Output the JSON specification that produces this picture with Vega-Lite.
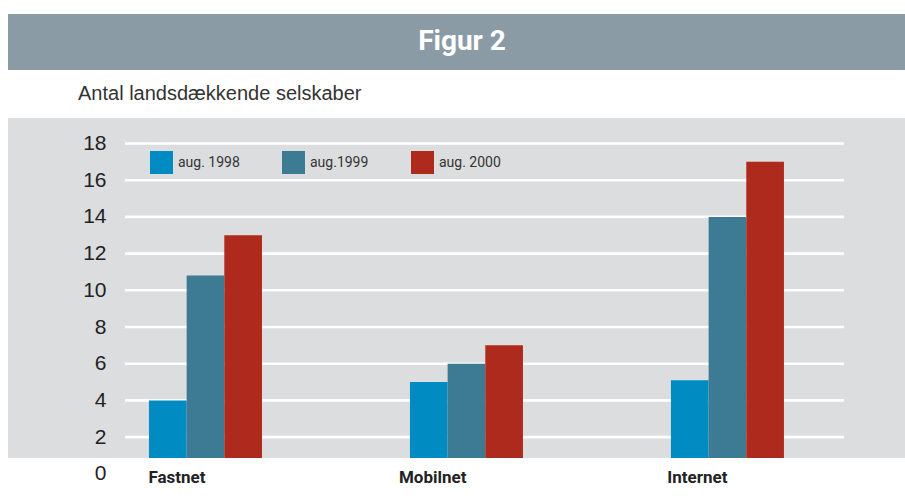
{
  "$schema": "https://vega.github.io/schema/vega-lite/v6.json",
  "background": "white",
  "padding": {"left": 8, "top": 14, "right": 0, "bottom": 0},
  "config": {"view": {"stroke": null}},
  "spacing": 14,
  "vconcat": [
    {
      "width": 897,
      "height": 56,
      "view": {"fill": "#8a9ba6", "stroke": null},
      "data": {"values": [{"label": "Figur 2"}]},
      "mark": {"type": "text", "color": "white", "font": "Roboto", "fontWeight": "bold", "fontSize": 28, "dx": 5.5, "baseline": "middle", "align": "center"},
      "encoding": {"text": {"field": "label"}}
    },
    {
      "width": 897,
      "height": 340,
      "view": {"fill": "#dcdddf", "stroke": null},
      "title": {"text": "Antal landsdækkende selskaber", "anchor": "start", "frame": "group", "dx": 70, "offset": -2, "baseline": "alphabetic", "font": "Liberation Sans", "fontSize": 20, "fontWeight": "normal", "color": "#333333"},
      "encoding": {
        "y": {
          "field": "value",
          "type": "quantitative",
          "title": null,
          "scale": {"domain": [0, 18], "range": [355.8, 25.5], "nice": false, "zero": true},
          "axis": {"values": [0, 2, 4, 6, 8, 10, 12, 14, 16, 18], "grid": false, "domain": false, "ticks": false, "tickSize": 0, "labelPadding": 0, "offset": -98, "labelFont": "Liberation Sans", "labelFontSize": 21, "labelColor": "#222222", "labelAlign": "right", "labelBaseline": "middle", "title": null}
        }
      },
      "layer": [
        {
          "data": {"values": [{"value": 2}, {"value": 4}, {"value": 6}, {"value": 8}, {"value": 10}, {"value": 12}, {"value": 14}, {"value": 16}, {"value": 18}]},
          "mark": {"type": "rule", "color": "white", "strokeWidth": 2.6, "xOffset": -24, "x2Offset": 173},
          "encoding": {
            "x": {"datum": "Fastnet", "bandPosition": 0, "scale": {"domain": ["Fastnet", "Mobilnet", "Internet"], "paddingInner": 0.567, "paddingOuter": 0.502, "align": 0.538}},
            "x2": {"datum": "Internet", "bandPosition": 0}
          }
        },
        {
          "data": {"values": [
            {"cat": "Fastnet", "year": "aug. 1998", "value": 4},
            {"cat": "Fastnet", "year": "aug.1999", "value": 10.8},
            {"cat": "Fastnet", "year": "aug. 2000", "value": 13},
            {"cat": "Mobilnet", "year": "aug. 1998", "value": 5},
            {"cat": "Mobilnet", "year": "aug.1999", "value": 6},
            {"cat": "Mobilnet", "year": "aug. 2000", "value": 7},
            {"cat": "Internet", "year": "aug. 1998", "value": 5.1},
            {"cat": "Internet", "year": "aug.1999", "value": 14},
            {"cat": "Internet", "year": "aug. 2000", "value": 17}
          ]},
          "mark": {"type": "bar", "clip": true, "stroke": null},
          "encoding": {
            "x": {
              "field": "cat", "type": "nominal", "sort": null, "title": null,
              "scale": {"domain": ["Fastnet", "Mobilnet", "Internet"], "paddingInner": 0.567, "paddingOuter": 0.502, "align": 0.538},
              "axis": {"orient": "bottom", "domain": false, "ticks": false, "tickSize": 0, "labelPadding": 19, "labelAngle": 0, "labelFont": "Roboto", "labelFontWeight": "bold", "labelFontSize": 17, "labelColor": "#222222", "grid": false, "title": null}
            },
            "xOffset": {"field": "year", "type": "nominal", "sort": ["aug. 1998", "aug.1999", "aug. 2000"], "scale": {"paddingInner": 0, "paddingOuter": 0}},
            "color": {
              "field": "year", "type": "nominal",
              "scale": {"domain": ["aug. 1998", "aug.1999", "aug. 2000"], "range": ["#008bc3", "#3d7b95", "#ae2a1c"]},
              "legend": {"orient": "none", "legendX": 142, "legendY": 137, "direction": "horizontal", "title": null, "symbolType": "square", "symbolSize": 529, "symbolStrokeWidth": 0, "symbolOpacity": 1, "labelFont": "Roboto", "labelFontSize": 14, "labelColor": "#333333", "labelOffset": 5, "columnPadding": 42, "padding": 0}
            }
          }
        }
      ]
    }
  ]
}
